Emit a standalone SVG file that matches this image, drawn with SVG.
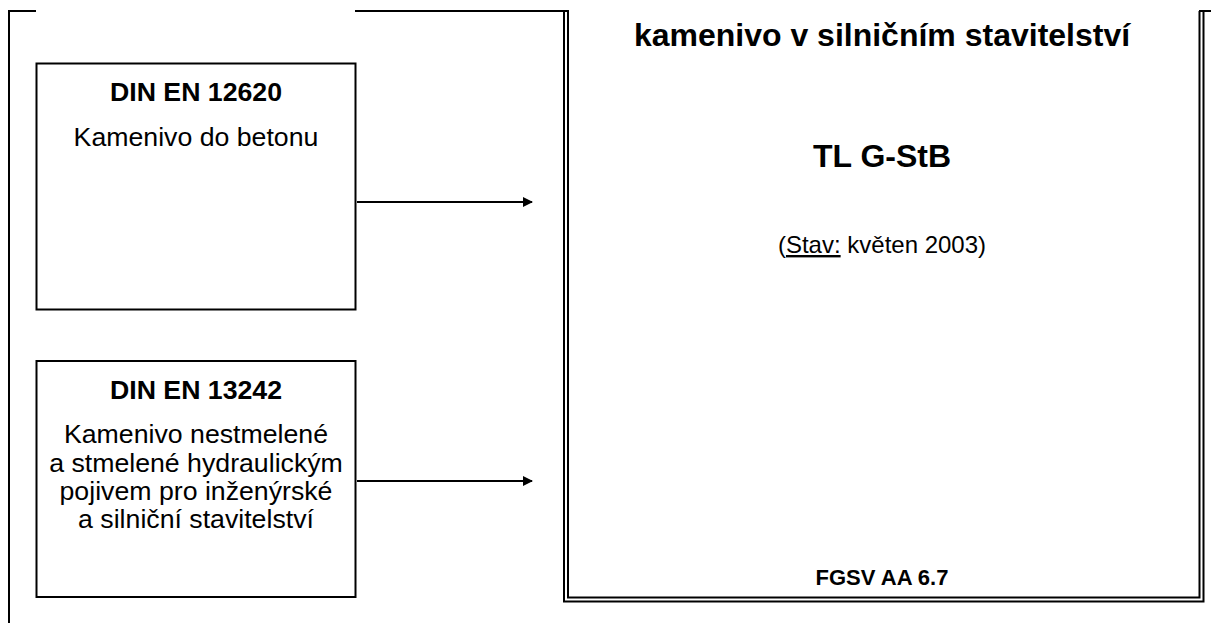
<svg xmlns="http://www.w3.org/2000/svg" width="1211" height="623" viewBox="0 0 1211 623">
<defs>
<style>
.ln{stroke:#000;fill:none;stroke-width:2}
.box{stroke:#000;fill:#fff;stroke-width:2}
text{font-family:"Liberation Sans",Arial,sans-serif;fill:#000;text-anchor:middle}
.b{font-weight:bold}
.t{font-size:26.7px}
</style>
<marker id="ah" markerWidth="10" markerHeight="10" refX="9" refY="5" orient="auto" markerUnits="userSpaceOnUse">
<path d="M0,0 L10,5 L0,10 Z" fill="#000"/>
</marker>
</defs>
<g id="frame">
<path class="ln" d="M36,11 H9 V623"/>
<path class="ln" d="M355,11 H569"/>
<path class="ln" d="M1199,11 H1211"/>
</g>
<g id="box1">
<rect class="box" x="36.5" y="63.5" width="319" height="246"/>
<text class="b t" x="196" y="101">DIN EN 12620</text>
<text class="t" x="196" y="146">Kamenivo do betonu</text>
</g>
<g id="box2">
<rect class="box" x="36.5" y="361" width="319" height="236"/>
<text class="b t" x="196" y="399">DIN EN 13242</text>
<text class="t" x="196" y="443">Kamenivo nestmelené</text>
<text class="t" x="196" y="471.5">a stmelené hydraulickým</text>
<text class="t" x="196" y="500">pojivem pro inženýrské</text>
<text class="t" x="196" y="528">a silniční stavitelství</text>
</g>
<g id="main">
<path class="ln" d="M564,11 V601.5 H1203.5 V11"/>
<path class="ln" d="M568,11 V597.5 H1199.5 V11"/>
<text class="b" x="882" y="46" font-size="32">kamenivo v silničním stavitelství</text>
<text class="b" x="882" y="167" font-size="32">TL G-StB</text>
<text x="882" y="253" font-size="24">(<tspan text-decoration="underline">Stav:</tspan> květen 2003)</text>
<text class="b" x="882" y="585" font-size="22">FGSV AA 6.7</text>
</g>
<g id="connectors">
<line class="ln" x1="357" y1="202" x2="532" y2="202" marker-end="url(#ah)"/>
<line class="ln" x1="357" y1="481" x2="532" y2="481" marker-end="url(#ah)"/>
</g>
</svg>
